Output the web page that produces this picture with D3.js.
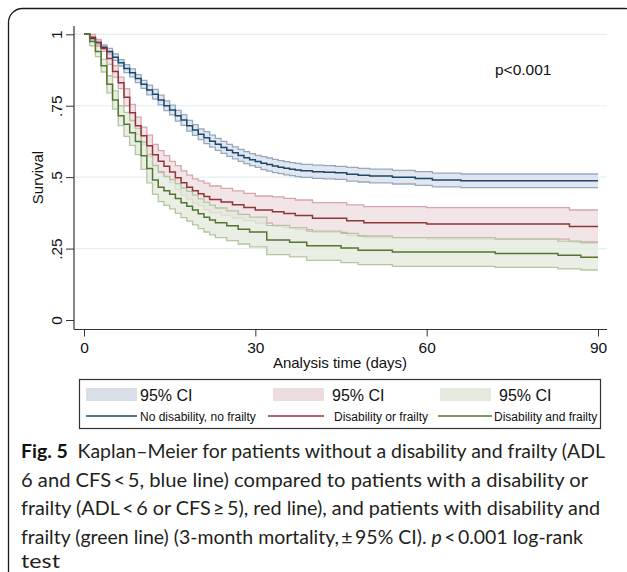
<!DOCTYPE html>
<html><head><meta charset="utf-8">
<script src="https://cdn.jsdelivr.net/npm/d3@7"></script>
<style>body{margin:0;background:#fff}svg{display:block}</style>
</head><body>
<svg id="c" width="627" height="572"></svg>
<script>
// ---- data ----
const groups = ["No disability, no frailty", "Disability or frailty", "Disability and frailty"];
const xTicks = [0, 30, 60, 90];
const xTickLabels = ["0", "30", "60", "90"];
const yTicks = [0, 0.25, 0.5, 0.75, 1];
const yTickLabels = ["0", ".25", ".5", ".75", "1"];

const blueT  = [0,1,2,3,4,5,6,7,8,9,10,11,12,13,14,15,16,17,18,19,20,21,22,23,24,25,26,27,28,29,30,31,32,33,34,35,36,37,38,40,42,44,46,48,50,54,58,61,66,90];
const blueS  = [1,.985,.97,.955,.94,.92,.9,.88,.865,.845,.825,.805,.79,.77,.75,.735,.715,.7,.68,.665,.65,.638,.626,.615,.604,.594,.585,.576,.568,.561,.555,.549,.544,.539,.535,.531,.528,.525,.522,.519,.517,.515,.51,.507,.504,.5,.495,.49,.487,.487];
const blueLo = [1,.977,.962,.947,.929,.909,.889,.866,.851,.831,.811,.788,.773,.753,.733,.718,.696,.681,.661,.646,.631,.617,.605,.594,.583,.573,.564,.555,.547,.54,.534,.526,.521,.516,.512,.508,.505,.502,.499,.496,.494,.492,.486,.483,.48,.476,.471,.466,.463,.463];
const blueHi = [1,.993,.978,.963,.951,.931,.911,.894,.879,.859,.839,.822,.807,.787,.767,.752,.734,.719,.699,.684,.669,.659,.647,.636,.625,.615,.606,.597,.589,.582,.576,.572,.567,.562,.558,.554,.551,.548,.545,.542,.54,.538,.534,.531,.528,.524,.519,.514,.511,.511];

const redT  = [0,1,2,3,4,5,6,7,8,9,10,11,12,13,14,15,16,17,18,19,20,21,22,24,26,28,30,33,35,37,40,46,49,60,85,90];
const redS  = [1,.99,.972,.95,.915,.87,.83,.78,.725,.68,.645,.61,.578,.556,.538,.518,.498,.48,.465,.452,.442,.432,.422,.413,.403,.394,.385,.379,.373,.366,.356,.347,.34,.336,.327,.327];
const redLo = [1,.98,.962,.94,.895,.85,.81,.75,.695,.65,.615,.573,.541,.519,.501,.481,.456,.438,.423,.41,.4,.386,.376,.367,.357,.348,.339,.329,.323,.316,.307,.295,.288,.283,.273,.273];
const redHi = [1,1,.982,.96,.935,.89,.85,.81,.755,.71,.675,.647,.615,.593,.575,.555,.54,.522,.507,.494,.487,.479,.469,.461,.452,.443,.434,.431,.426,.42,.411,.403,.397,.393,.385,.385];

const greenT  = [0,1,2,3,4,5,6,7,8,9,10,11,12,13,14,15,16,17,18,19,20,21,22,23,25,27,29,32,36,39,45,48,54,72,83,87,90];
const greenS  = [1,.975,.94,.89,.825,.77,.715,.685,.655,.625,.575,.53,.49,.465,.452,.44,.425,.41,.398,.385,.372,.36,.35,.34,.33,.318,.308,.28,.272,.26,.252,.244,.238,.233,.227,.22,.22];
const greenLo = [1,.96,.922,.868,.795,.738,.68,.643,.611,.579,.527,.48,.44,.414,.401,.389,.373,.358,.346,.333,.32,.308,.298,.288,.278,.266,.256,.229,.221,.209,.201,.194,.188,.184,.179,.175,.175];
const greenHi = [1,.99,.958,.912,.855,.802,.75,.727,.699,.671,.623,.58,.54,.516,.503,.491,.477,.462,.45,.437,.424,.412,.402,.392,.382,.37,.36,.331,.323,.311,.303,.294,.288,.283,.276,.27,.27];

const pText = "p<0.001";

// ---- styles ----
const lineCol = ["#1a476f", "#90353b", "#55752f"];
const fillCol = ["#d8dfe8", "#eddcdf", "#e3e9dc"];
const edgeCol = ["#93a9c2", "#d6a6ac", "#b3c69f"];

const series = [
  {t: blueT, s: blueS, lo: blueLo, hi: blueHi},
  {t: redT, s: redS, lo: redLo, hi: redHi},
  {t: greenT, s: greenS, lo: greenLo, hi: greenHi}
].map(g => g.t.map((t, i) => ({t, s: g.s[i], lo: g.lo[i], hi: g.hi[i]})));

const svg = d3.select("#c");
const x = d3.scaleLinear().domain([0, 90]).range([84, 598]);
const y = d3.scaleLinear().domain([0, 1]).range([320, 34.3]);

// frame
svg.append("rect").attr("x", 8.5).attr("y", 8.5).attr("width", 630).attr("height", 700)
  .attr("rx", 14).attr("fill", "none").attr("stroke", "#1a1a1a").attr("stroke-width", 1.3);

// gridlines
svg.append("g").selectAll("line").data(yTicks.filter(v => v > 0)).join("line")
  .attr("x1", 74).attr("x2", 607).attr("y1", d => y(d)).attr("y2", d => y(d))
  .attr("stroke", "#e6eff0").attr("stroke-width", 1.2);

// CI bands
const area = d3.area().curve(d3.curveStepAfter).x(d => x(d.t)).y0(d => y(d.lo)).y1(d => y(d.hi));
const lineLo = d3.line().curve(d3.curveStepAfter).x(d => x(d.t)).y(d => y(d.lo));
const lineHi = d3.line().curve(d3.curveStepAfter).x(d => x(d.t)).y(d => y(d.hi));
const lineS = d3.line().curve(d3.curveStepAfter).x(d => x(d.t)).y(d => y(d.s));

series.forEach((g, i) => {
  svg.append("path").attr("d", area(g)).attr("fill", fillCol[i]).attr("fill-opacity", 0.75);
  svg.append("path").attr("d", lineLo(g)).attr("fill", "none").attr("stroke", edgeCol[i]).attr("stroke-width", 1.3);
  svg.append("path").attr("d", lineHi(g)).attr("fill", "none").attr("stroke", edgeCol[i]).attr("stroke-width", 1.3);
});
series.forEach((g, i) => {
  svg.append("path").attr("d", lineS(g)).attr("fill", "none").attr("stroke", lineCol[i]).attr("stroke-width", 1.5);
});

// axes
const sans = "Liberation Sans, Arial, sans-serif";
const axisCol = "#333";
const yAxis = svg.append("g").attr("transform", "translate(74,0)")
  .call(d3.axisLeft(y).tickValues(yTicks).tickSize(8).tickFormat((d, i) => yTickLabels[i]));
yAxis.select(".domain").remove();
yAxis.selectAll(".tick line").attr("stroke", axisCol);
yAxis.selectAll(".tick text").attr("transform", "rotate(-90)").attr("x", 0).attr("y", -12).attr("dy", 0)
  .attr("text-anchor", "middle").attr("font-family", sans)
  .attr("font-size", 15.5).attr("fill", "#111");
svg.append("line").attr("x1", 74).attr("x2", 74).attr("y1", 26).attr("y2", 329.5).attr("stroke", axisCol).attr("stroke-width", 1.2);

const xAxis = svg.append("g").attr("transform", "translate(0,329.5)")
  .call(d3.axisBottom(x).tickValues(xTicks).tickSize(7).tickPadding(5).tickFormat((d, i) => xTickLabels[i]));
xAxis.select(".domain").remove();
xAxis.selectAll(".tick line").attr("stroke", axisCol);
xAxis.selectAll(".tick text").attr("font-family", sans).attr("font-size", 15.5).attr("fill", "#111");
svg.append("line").attr("x1", 74).attr("x2", 607).attr("y1", 329.5).attr("y2", 329.5).attr("stroke", axisCol).attr("stroke-width", 1.2);

svg.append("text").attr("x", 340).attr("y", 368).attr("text-anchor", "middle")
  .attr("font-family", sans).attr("font-size", 15).attr("fill", "#111").text("Analysis time (days)");
svg.append("text").attr("transform", "translate(43,177.5) rotate(-90)").attr("text-anchor", "middle")
  .attr("font-family", sans).attr("font-size", 15).attr("fill", "#111").text("Survival");
svg.append("text").attr("x", 495).attr("y", 75).attr("font-family", sans).attr("font-size", 15.5)
  .attr("fill", "#111").text(pText);

// legend
svg.append("rect").attr("x", 79.5).attr("y", 379.5).attr("width", 521).attr("height", 49)
  .attr("fill", "#fff").attr("stroke", "#333").attr("stroke-width", 1.2);
const swX = [86, 273, 440];
const lnX = [86, 268, 438];
const lnX2 = [137, 324, 492];
const ciX = [140, 332, 499];
const lbX = [140, 334, 494];
groups.forEach((g, i) => {
  svg.append("rect").attr("x", swX[i]).attr("y", 388).attr("width", 51).attr("height", 13).attr("fill", fillCol[i]);
  svg.append("text").attr("x", ciX[i]).attr("y", 400.5)
    .attr("font-family", sans).attr("font-size", 16).attr("fill", "#111").text("95% CI");
  svg.append("line").attr("x1", lnX[i]).attr("x2", lnX2[i]).attr("y1", 416).attr("y2", 416)
    .attr("stroke", lineCol[i]).attr("stroke-width", 1.3);
  svg.append("text").attr("x", lbX[i]).attr("y", 420.5).attr("font-family", sans).attr("font-size", 12)
    .attr("fill", "#111").text(g);
});

// caption
const cap = svg.append("g").attr("font-family", "Lato, 'Open Sans', sans-serif").attr("font-size", 19.5).attr("fill", "#231f20");
const capLines = [
  {y: 458, w: 584, parts: [["Fig. 5", "bold"], ["\u2002Kaplan\u2013Meier for patients without a disability and frailty (ADL", ""]]},
  {y: 486.5, w: 567, parts: [["6 and CFS\u2009<\u20095, blue line) compared to patients with a disability or", ""]]},
  {y: 515, w: 579, parts: [["frailty (ADL\u2009<\u20096 or CFS\u2009\u2265\u20095), red line), and patients with disability and", ""]]},
  {y: 543.5, w: 562, parts: [["frailty (green line) (3-month mortality,\u2009\u00b1\u200995% CI). ", ""], ["p", "italic"], ["\u2009<\u20090.001 log-rank", ""]]},
  {y: 568, w: 39, parts: [["test", ""]]}
];
capLines.forEach(l => {
  const t = cap.append("text").attr("x", 21).attr("y", l.y).attr("textLength", l.w).attr("lengthAdjust", "spacingAndGlyphs");
  l.parts.forEach(p => {
    const ts = t.append("tspan").text(p[0]);
    if (p[1] === "bold") ts.attr("font-weight", "bold").attr("fill", "#111");
    if (p[1] === "italic") ts.attr("font-style", "italic");
  });
});
</script>
</body></html>
